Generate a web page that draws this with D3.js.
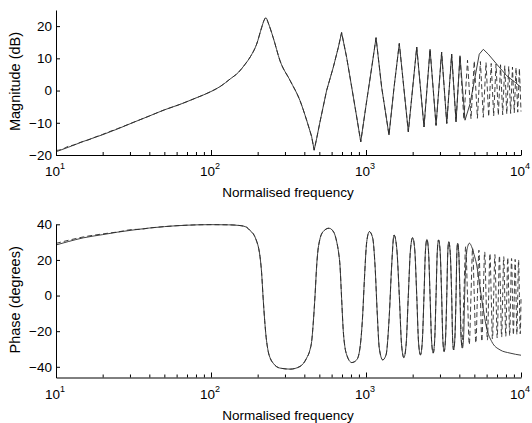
<!DOCTYPE html>
<html>
<head>
<meta charset="utf-8">
<script src="https://cdn.jsdelivr.net/npm/d3@7"></script>
<style>
  body { margin: 0; background: #fff; }
  svg { display: block; font-family: "Liberation Sans", Arial, Helvetica, sans-serif; }
</style>
</head>
<body>
<svg id="chart" width="532" height="423"></svg>
<script>
// ---------- data ----------
// Magnitude (dB): part common to both responses
const magFreq = [40, 50, 63, 80, 90, 100, 115, 133, 150, 165, 180, 197, 212, 220, 226, 234, 252, 279, 324, 375, 414, 446, 463, 480, 505, 557, 615, 663, 696, 750, 809, 871, 925, 1011, 1089, 1161, 1262, 1407, 1517, 1640, 1875, 2125, 2367, 2590, 2831, 3076, 3320, 3570, 3810, 4040];
const magShared = [-7.9, -6.0, -4.3, -2.3, -1.3, -0.3, 1.3, 3.6, 5.6, 8.0, 10.6, 14.4, 19.5, 21.8, 22.6, 21.0, 16.4, 9.2, 3.1, -3.1, -9.2, -14.3, -18.5, -15.0, -9.7, 0.0, 7.2, 13.4, 18.0, 10.3, 1.0, -8.2, -15.9, -3.1, 7.2, 16.4, 1.0, -13.8, 1.0, 14.6, -12.8, 13.5, -11.3, 12.8, -10.8, 11.9, -10.2, 11.3, -9.7, 10.8];

// Magnitude, low-frequency start of each response
const magLowFreq = [10, 12, 15, 20, 25, 31.5];
const magLowSolid = [-19.0, -17.6, -15.8, -13.7, -11.9, -9.9];
const magLowDashFreq = [10, 11, 12, 13, 14.5, 16, 18, 20, 22, 25, 30, 35];
const magLowDashed = [-18.6, -18.2, -17.3, -16.9, -16.0, -15.4, -14.4, -13.6, -12.8, -11.8, -10.3, -9.0];

// Magnitude, high-frequency end of each response
const magTailFreqSolid = [4355, 4690, 5050, 5380, 5715, 6150, 6970, 8084, 9140, 10000];
const magTailSolid = [-9.2, -4.1, 4.1, 11.3, 12.8, 11.3, 8.2, 4.6, 2.6, 1.0];
const magTailFreqDashed = [4280, 4517, 4757, 4994, 5234, 5471, 5711, 5948, 6188, 6425, 6665, 6902, 7142, 7379, 7619, 7856, 8096, 8333, 8573, 8810, 9050, 9287, 9527, 9764, 10000];
const magTailDashed = [-9.0, 9.4, -8.8, 9.2, -8.6, 9.0, -8.3, 8.7, -8.1, 8.4, -7.9, 8.2, -7.7, 8.0, -7.5, 7.7, -7.3, 7.5, -7.1, 7.3, -6.9, 7.1, -6.7, 6.9, -6.5];

// Phase (degrees): part common to both responses
const phaseFreq = [40, 50, 70, 100, 130, 154, 170, 178.6, 190, 197, 203, 207, 212, 217, 222, 226, 234, 242, 252, 278, 324, 375, 414, 435, 446, 458, 469, 481, 490, 500, 529, 577, 620, 647, 666, 679, 696, 714, 730, 751, 809, 871, 914, 952, 975, 1011, 1051, 1105, 1143, 1183, 1218, 1282, 1347, 1414, 1465, 1516, 1577, 1640, 1697, 1755, 1814, 1875, 1937, 2000, 2062, 2125, 2184, 2245, 2305, 2367, 2419, 2472, 2530, 2590, 2651, 2713, 2771, 2831, 2885, 2940, 3007, 3076, 3133, 3191, 3255, 3320, 3370, 3420, 3494, 3570, 3622, 3675, 3742, 3810, 3855, 3900, 3970, 4040];
const phaseShared = [37.9, 38.7, 39.5, 39.8, 39.7, 39.3, 38.3, 36.5, 33.8, 30.5, 26.5, 22.0, 13.0, -1.5, -14.0, -22.0, -31.4, -35.5, -38.0, -40.7, -41.3, -39.8, -35.1, -30.5, -25.8, -14.0, 0.0, 17.2, 25.5, 30.2, 35.9, 37.8, 35.5, 30.2, 24.0, 17.2, -1.5, -20.2, -28.5, -33.3, -37.6, -36.1, -29.5, -10.8, 7.8, 30.2, 35.9, 32.2, 17.2, -10.8, -29.5, -36.1, -33.3, -10.8, 17.2, 34.0, 27.0, 0.0, -27.8, -34.8, -27.8, 0.0, 26.0, 32.5, 26.0, 0.0, -26.6, -33.3, -26.6, 0.0, 25.2, 31.5, 25.2, 0.0, -25.8, -32.3, -25.8, 0.0, 25.0, 31.2, 25.0, 0.0, -25.1, -31.4, -25.1, 0.0, 24.2, 30.2, 24.2, 0.0, -24.4, -30.5, -24.4, 0.0, 23.5, 29.4, 23.5, 0.0];

// Phase, low-frequency start of each response
const phaseLowFreq = [10, 12, 15, 20, 25, 31.4];
const phaseLowSolid = [28.4, 30.3, 32.4, 34.2, 35.6, 36.8];
const phaseLowDashFreq = [10, 12, 15, 20, 25, 31.4, 35];
const phaseLowDashed = [29.3, 31.0, 32.9, 34.6, 35.7, 37.1, 37.2];

// Phase, high-frequency end of each response
const phaseTailFreqSolid = [4100, 4190, 4270, 4330, 4420, 4530, 4650, 4800, 4980, 5176, 5370, 5570, 5780, 6005, 6471, 7323, 8497, 10000];
const phaseTailSolid = [-23.0, -29.5, -22.0, 0.0, 20.0, 27.5, 29.4, 27.5, 23.0, 17.2, 8.0, -1.5, -10.5, -18.3, -25.8, -30.5, -32.3, -33.5];
const phaseTailFreqDashed = [4160, 4280, 4398, 4517, 4637, 4757, 4875, 4994, 5114, 5234, 5352, 5471, 5591, 5711, 5830, 5948, 6068, 6188, 6306, 6425, 6545, 6665, 6783, 6902, 7022, 7142, 7260, 7379, 7499, 7619, 7737, 7856, 7976, 8096, 8214, 8333, 8453, 8573, 8691, 8810, 8930, 9050, 9168, 9287, 9407, 9527, 9645, 9764, 9884, 10000];
const phaseTailDashed = [-29.3, 0.0, 27.5, 0.0, -27.5, 0.0, 26.5, 0.0, -26.6, 0.0, 25.5, 0.0, -25.8, 0.0, 24.5, 0.0, -25.0, 0.0, 23.6, 0.0, -24.4, 0.0, 23.0, 0.0, -23.8, 0.0, 22.4, 0.0, -23.3, 0.0, 21.8, 0.0, -22.9, 0.0, 21.3, 0.0, -22.5, 0.0, 20.8, 0.0, -22.1, 0.0, 20.3, 0.0, -21.8, 0.0, 20.0, 0.0, -21.5, -2.0];

// Axis ticks
const freqMajor = [10, 100, 1000, 10000];
const freqExponents = ["1", "2", "3", "4"];
const freqMinor = [20, 30, 40, 50, 60, 70, 80, 90, 200, 300, 400, 500, 600, 700, 800, 900, 2000, 3000, 4000, 5000, 6000, 7000, 8000, 9000];
const magTicks = [-20, -10, 0, 10, 20];
const phaseTicks = [-40, -20, 0, 20, 40];

// ---------- helpers ----------
const zip = (fs, vs) => fs.map((f, i) => ({ f, v: vs[i] }));
const magCommon = zip(magFreq, magShared);
const phaseCommon = zip(phaseFreq, phaseShared);

const magSolidPts = zip(magLowFreq, magLowSolid).concat(magCommon, zip(magTailFreqSolid, magTailSolid));
const magDashedPts = zip(magLowDashFreq, magLowDashed).concat(magCommon, zip(magTailFreqDashed, magTailDashed));
const phaseSolidPts = zip(phaseLowFreq, phaseLowSolid).concat(phaseCommon, zip(phaseTailFreqSolid, phaseTailSolid));
const phaseDashedPts = zip(phaseLowDashFreq, phaseLowDashed).concat(phaseCommon, zip(phaseTailFreqDashed, phaseTailDashed));

// ---------- drawing ----------
const svg = d3.select("#chart");
const left = 56, right = 521;
const x = d3.scaleLog().domain([10, 10000]).range([left, right]);

// magnitude: smooth below the first notch, straight segments through the sharp resonances above it
const magSplit = 446;

const panels = [
  { top: 10, bottom: 155, domain: [-20, 25], ticks: magTicks, label: "Magnitude (dB)",
    solid: magSolidPts, dashed: magDashedPts, split: magSplit },
  { top: 224.3, bottom: 377.5, domain: [-46, 40], ticks: phaseTicks, label: "Phase (degrees)",
    solid: phaseSolidPts, dashed: phaseDashedPts, split: null }
];

const lineColor = "#2a2a2a";
const tickFont = 13.5;
const labelFont = 13.5;
const yLabelFont = 14.5;

panels.forEach(p => {
  const y = d3.scaleLinear().domain(p.domain).range([p.bottom, p.top]);
  const g = svg.append("g");

  const smooth = d3.line().x(d => x(d.f)).y(d => y(d.v)).curve(d3.curveMonotoneX);
  const straight = d3.line().x(d => x(d.f)).y(d => y(d.v)).curve(d3.curveLinear);
  const pathOf = pts => {
    if (p.split === null) return smooth(pts);
    const lo = pts.filter(d => d.f <= p.split);
    const hi = pts.filter(d => d.f >= p.split);
    return smooth(lo) + straight(hi).replace(/^M/, "L");
  };

  g.append("path")
    .attr("d", pathOf(p.dashed)).attr("fill", "none")
    .attr("stroke", lineColor).attr("stroke-width", 0.9)
    .attr("stroke-dasharray", "5,3");
  g.append("path")
    .attr("d", pathOf(p.solid)).attr("fill", "none")
    .attr("stroke", lineColor).attr("stroke-width", 0.9);

  // y axis, ticks pointing inward
  const ya = g.append("g").attr("transform", `translate(${left},0)`)
    .call(d3.axisLeft(y).tickValues(p.ticks).tickSize(-4).tickSizeOuter(0).tickPadding(4));
  ya.selectAll("text").attr("font-size", tickFont).attr("fill", "#000");
  ya.attr("font-family", null);

  // x axis major ticks
  g.append("g").attr("transform", `translate(0,${p.bottom})`)
    .call(d3.axisBottom(x).tickValues(freqMajor).tickSize(-5).tickSizeOuter(0).tickFormat(() => ""));
  // x axis minor ticks
  g.append("g").attr("transform", `translate(0,${p.bottom})`)
    .call(d3.axisBottom(x).tickValues(freqMinor).tickSize(-3).tickSizeOuter(0).tickFormat(() => ""))
    .select(".domain").remove();

  g.selectAll(".domain, .tick line").attr("stroke", "#000");

  // decade labels 10^n
  freqMajor.forEach((f, i) => {
    const t = g.append("text")
      .attr("x", x(f) - 1).attr("y", p.bottom + 21)
      .attr("text-anchor", "middle").attr("font-size", tickFont).attr("fill", "#000");
    t.append("tspan").text("10");
    t.append("tspan").attr("dy", -7).attr("font-size", 9).text(freqExponents[i]);
  });

  g.append("text")
    .attr("x", (left + right) / 2 - 0.5).attr("y", p.bottom + 42)
    .attr("text-anchor", "middle").attr("font-size", labelFont).attr("fill", "#000")
    .text("Normalised frequency");

  g.append("text")
    .attr("transform", `translate(20,${(p.top + p.bottom) / 2 - 1}) rotate(-90)`)
    .attr("text-anchor", "middle").attr("font-size", yLabelFont).attr("fill", "#000")
    .text(p.label);
});
</script>
</body>
</html>
